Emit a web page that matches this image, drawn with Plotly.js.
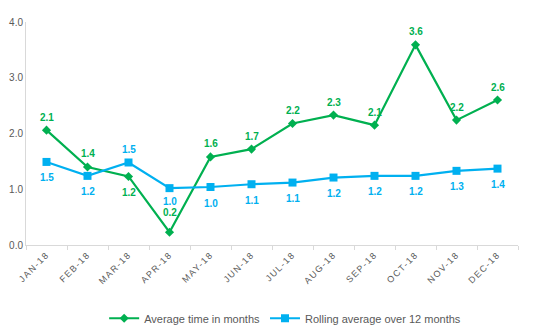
<!DOCTYPE html>
<html><head><meta charset="utf-8">
<script src="https://cdn.plot.ly/plotly-3.0.1.min.js"></script>
<style>
body{margin:0;background:#fff}
#chart .xtick text{letter-spacing:1.4px}
</style>
</head><body>
<div id="chart" style="width:533px;height:335px"></div>
<script>
var months = ["JAN-18","FEB-18","MAR-18","APR-18","MAY-18","JUN-18","JUL-18","AUG-18","SEP-18","OCT-18","NOV-18","DEC-18"];
var avgTime = [2.06,1.40,1.23,0.23,1.58,1.72,2.18,2.33,2.15,3.59,2.24,2.60];
var rollingAvg = [1.49,1.24,1.48,1.02,1.04,1.09,1.12,1.21,1.24,1.24,1.33,1.37];
// label placement: "above" / "below"
var avgLabelSide = ["above","above","below","above","above","above","above","above","above","above","above","above"];
var rollLabelSide = ["below","below","above","below","below","below","below","below","below","below","below","below"];

var green = "#00B050", blue = "#00B0F0";
var traces = [
 {x: months, y: avgTime, name: "Average time in months", type: "scatter", mode: "lines+markers",
  line: {color: green, width: 2.2}, marker: {symbol: "diamond", size: 7, color: green}, cliponaxis: false},
 {x: months, y: rollingAvg, name: "Rolling average over 12 months", type: "scatter", mode: "lines+markers",
  line: {color: blue, width: 2.2}, marker: {symbol: "square", size: 8, color: blue}, cliponaxis: false}
];

function makeLabels(vals, sides, color, trace) {
  return vals.map(function(v, i) {
    var shift = sides[i] === "above" ? 13 : -16;
    if (trace === 0 && i === 3) shift = 20;
    if (trace === 1 && i === 3) shift = -13;
    return {x: months[i], y: v, xref: "x", yref: "y", text: v.toFixed(1), showarrow: false,
      yshift: shift, yanchor: "middle", xanchor: "center", borderpad: 0,
      font: {family: "Liberation Sans, Arial", size: 10, color: color, weight: "bold"}};
  });
}
var annotations = makeLabels(avgTime, avgLabelSide, green, 0).concat(makeLabels(rollingAvg, rollLabelSide, blue, 1));

var layout = {
 width: 533, height: 335,
 margin: {l: 26, r: 15, t: 22, b: 90, autoexpand: false},
 paper_bgcolor: "#fff", plot_bgcolor: "#fff",
 font: {family: "Liberation Sans, Arial", color: "#595959"},
 showlegend: true,
 annotations: annotations,
 legend: {orientation: "h", x: 0.535, xanchor: "center", xref: "container", y: 0.05, yanchor: "middle", yref: "container",
   font: {size: 11, color: "#595959"}, itemwidth: 30, tracegroupgap: 0},
 xaxis: {type: "category", range: [-0.5, 11.5], automargin: false, showgrid: false, showline: true, linecolor: "#d9d9d9", linewidth: 1,
   ticks: "outside", tickson: "boundaries", ticklen: 4, tickcolor: "#d9d9d9", tickangle: -45,
   tickfont: {size: 9, color: "#595959"}, zeroline: false, fixedrange: true},
 yaxis: {range: [0, 4], dtick: 1, tickformat: ".1f", automargin: false, showgrid: false, showline: true, linecolor: "#d9d9d9", linewidth: 1,
   ticks: "", tickfont: {size: 10, color: "#595959"}, zeroline: false, fixedrange: true}
};
Plotly.newPlot("chart", traces, layout, {displayModeBar: false, staticPlot: true});
</script>
</body></html>
